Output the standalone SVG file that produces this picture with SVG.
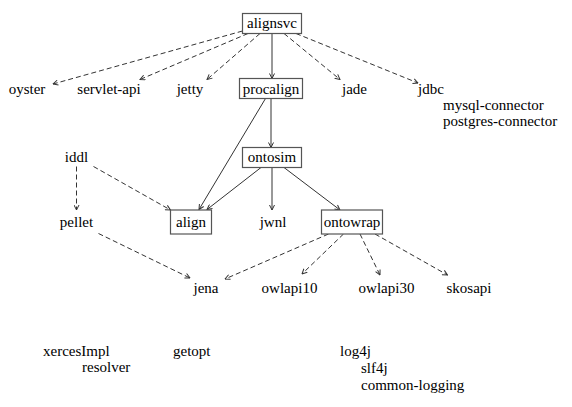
<svg xmlns="http://www.w3.org/2000/svg" width="572" height="407" viewBox="0 0 572 407" font-family="'Liberation Serif', 'Times New Roman', serif">
<defs>
<marker id="ah" viewBox="0 0 6 6" refX="5.5" refY="3" markerWidth="6" markerHeight="6" markerUnits="userSpaceOnUse" orient="auto">
<path d="M0.5,0.5 L5.5,3 L0.5,5.5" fill="none" stroke="#333" stroke-width="1"/>
</marker>
<style>
text{font-family:"Liberation Serif","Times New Roman",serif;font-size:15px;fill:#000}
.m{text-anchor:middle}
.box{fill:#fff;stroke:#555;stroke-width:1.2}
.e{fill:none;stroke:#333;stroke-width:1;marker-end:url(#ah)}
.d{stroke-dasharray:5,3}
</style>
</defs>
<rect width="572" height="407" fill="#fff"/>
<g id="edges">
<line class="e d" x1="242.5" y1="31" x2="53" y2="84"/>
<line class="e d" x1="248" y1="33.5" x2="140" y2="79.5"/>
<line class="e d" x1="260" y1="33.5" x2="207" y2="79.5"/>
<line class="e" x1="272" y1="33.5" x2="272" y2="78.5"/>
<line class="e d" x1="284" y1="33.5" x2="340" y2="79.5"/>
<line class="e d" x1="296" y1="33.5" x2="418" y2="83"/>
<line class="e" x1="271" y1="98.5" x2="271" y2="147.5"/>
<line class="e" x1="265.5" y1="98.5" x2="199" y2="209.5"/>
<line class="e" x1="261" y1="167.5" x2="207" y2="209.5"/>
<line class="e" x1="272" y1="167.5" x2="272" y2="210"/>
<line class="e" x1="284" y1="167.5" x2="340" y2="210"/>
<line class="e d" x1="76.5" y1="166.5" x2="76.5" y2="210"/>
<line class="e d" x1="93.5" y1="166.5" x2="170.5" y2="210"/>
<line class="e d" x1="98.5" y1="233.5" x2="190" y2="278"/>
<line class="e d" x1="328.5" y1="234" x2="225" y2="279"/>
<line class="e d" x1="343.5" y1="234" x2="302" y2="274"/>
<line class="e d" x1="360" y1="234" x2="380" y2="275"/>
<line class="e d" x1="375" y1="234" x2="447.5" y2="275"/>
</g>
<g id="alignsvc"><rect class="box" x="242.5" y="13.5" width="59" height="20"/><text class="m" x="272" y="28">alignsvc</text></g>
<g id="oyster"><text class="m" x="27" y="94">oyster</text></g>
<g id="servlet-api"><text class="m" x="109" y="94">servlet-api</text></g>
<g id="jetty"><text class="m" x="190" y="94">jetty</text></g>
<g id="procalign"><rect class="box" x="239.5" y="78.5" width="63" height="20"/><text class="m" x="271" y="93.5">procalign</text></g>
<g id="jade"><text class="m" x="354.5" y="94">jade</text></g>
<g id="jdbc"><text class="m" x="431" y="94">jdbc</text><text x="443" y="110">mysql-connector</text><text x="443" y="126">postgres-connector</text></g>
<g id="iddl"><text class="m" x="76.5" y="162">iddl</text></g>
<g id="ontosim"><rect class="box" x="242.5" y="147.5" width="59" height="20"/><text class="m" x="272" y="162">ontosim</text></g>
<g id="pellet"><text class="m" x="76.5" y="227">pellet</text></g>
<g id="align"><rect class="box" x="170.5" y="210" width="41" height="24"/><text class="m" x="191" y="227">align</text></g>
<g id="jwnl"><text class="m" x="273" y="227">jwnl</text></g>
<g id="ontowrap"><rect class="box" x="321.5" y="210" width="61" height="24"/><text class="m" x="352" y="227">ontowrap</text></g>
<g id="jena"><text class="m" x="206" y="293">jena</text></g>
<g id="owlapi10"><text class="m" x="289.5" y="293">owlapi10</text></g>
<g id="owlapi30"><text class="m" x="386.5" y="293">owlapi30</text></g>
<g id="skosapi"><text class="m" x="469" y="293">skosapi</text></g>
<g id="xercesImpl"><text x="43" y="356">xercesImpl</text><text x="82" y="372">resolver</text></g>
<g id="getopt"><text x="173" y="356">getopt</text></g>
<g id="log4j"><text x="340" y="356">log4j</text><text x="361" y="373">slf4j</text><text x="361" y="390">common-logging</text></g>
</svg>
